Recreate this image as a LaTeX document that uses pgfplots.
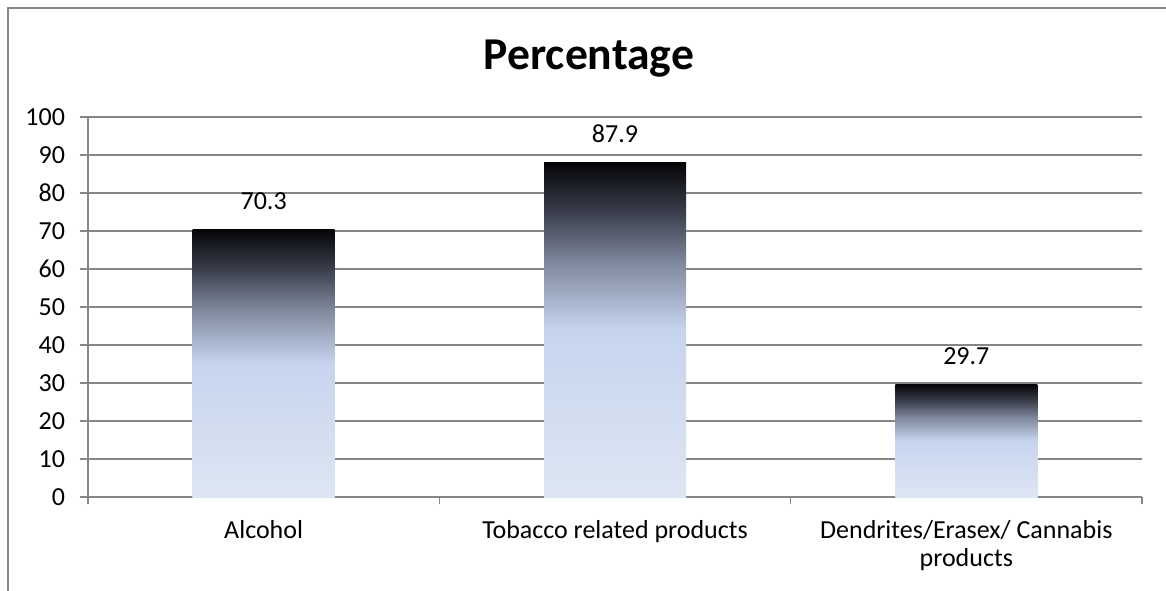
\documentclass[border=0pt]{standalone}
\usepackage{pgfplots}
\pgfplotsset{compat=1.18}
\usepackage{fontspec}
\setmainfont{Carlito}

\definecolor{gridgray}{RGB}{134,134,134}
\definecolor{barA}{RGB}{222,230,243}
\definecolor{barB}{RGB}{198,212,238}
\definecolor{barC}{RGB}{128,138,158}
\definecolor{barD}{RGB}{60,64,78}
\definecolor{barE}{RGB}{5,5,8}

% bar gradient: light at the bottom, black at the top
\pgfdeclareverticalshading{barshade}{100bp}{%
  color(0bp)=(barA); color(25bp)=(barA); color(50bp)=(barB);
  color(60bp)=(barC); color(67.5bp)=(barD); color(75bp)=(barE);
  color(100bp)=(barE)}

\begin{document}
\begin{tikzpicture}
\useasboundingbox (-44pt,-46.5pt) rectangle (539pt,248.5pt);
% chart frame (only left and top edges visible)
\draw[gridgray, line width=0.65pt] (-40pt,-60pt) -- (-40pt,244.5pt) -- (560pt,244.5pt);
\node[anchor=base, font=\fontsize{22.8}{27}\selectfont\bfseries] at (250.5pt,213.5pt) {Percentage};

\begin{axis}[
    at={(0pt,0pt)}, anchor=south west,
    scale only axis,
    width=527pt, height=190pt,
    xmin=0.5, xmax=3.5,
    ymin=0, ymax=100,
    ytick={0,10,...,100},
    xtick={1,2,3},
    xticklabels={Alcohol, Tobacco related products, {Dendrites/Erasex/ Cannabis\\products}},
    minor xtick={0.5,1.5,2.5,3.5},
    axis x line*=bottom,
    axis y line*=left,
    tick align=outside,
    major tick length=4pt,
    minor tick length=3.5pt,
    major x tick style={draw=none},
    every tick/.style={gridgray, line width=0.7pt},
    axis line style={gridgray, line width=0.7pt},
    ymajorgrids,
    grid style={gridgray, line width=0.7pt},
    /pgf/number format/assume math mode=true,
    tick label style={font=\fontsize{13}{14}\selectfont},
    xticklabel style={align=center, font=\fontsize{13}{14}\selectfont, yshift=-4pt},
    yticklabel style={xshift=-4pt},
    ybar,
    bar width=71pt,
    bar shift=0pt,
    nodes near coords,
    every node near coord/.append style={anchor=base, yshift=10pt, font=\fontsize{13}{14}\selectfont},
]
% one plot per bar so that each bar gets its own gradient
\addplot[draw=none, shading=barshade] coordinates {(1, 70.3)};
\addplot[draw=none, shading=barshade] coordinates {(2, 87.9)};
\addplot[draw=none, shading=barshade] coordinates {(3, 29.7)};
\end{axis}
\end{tikzpicture}
\end{document}
